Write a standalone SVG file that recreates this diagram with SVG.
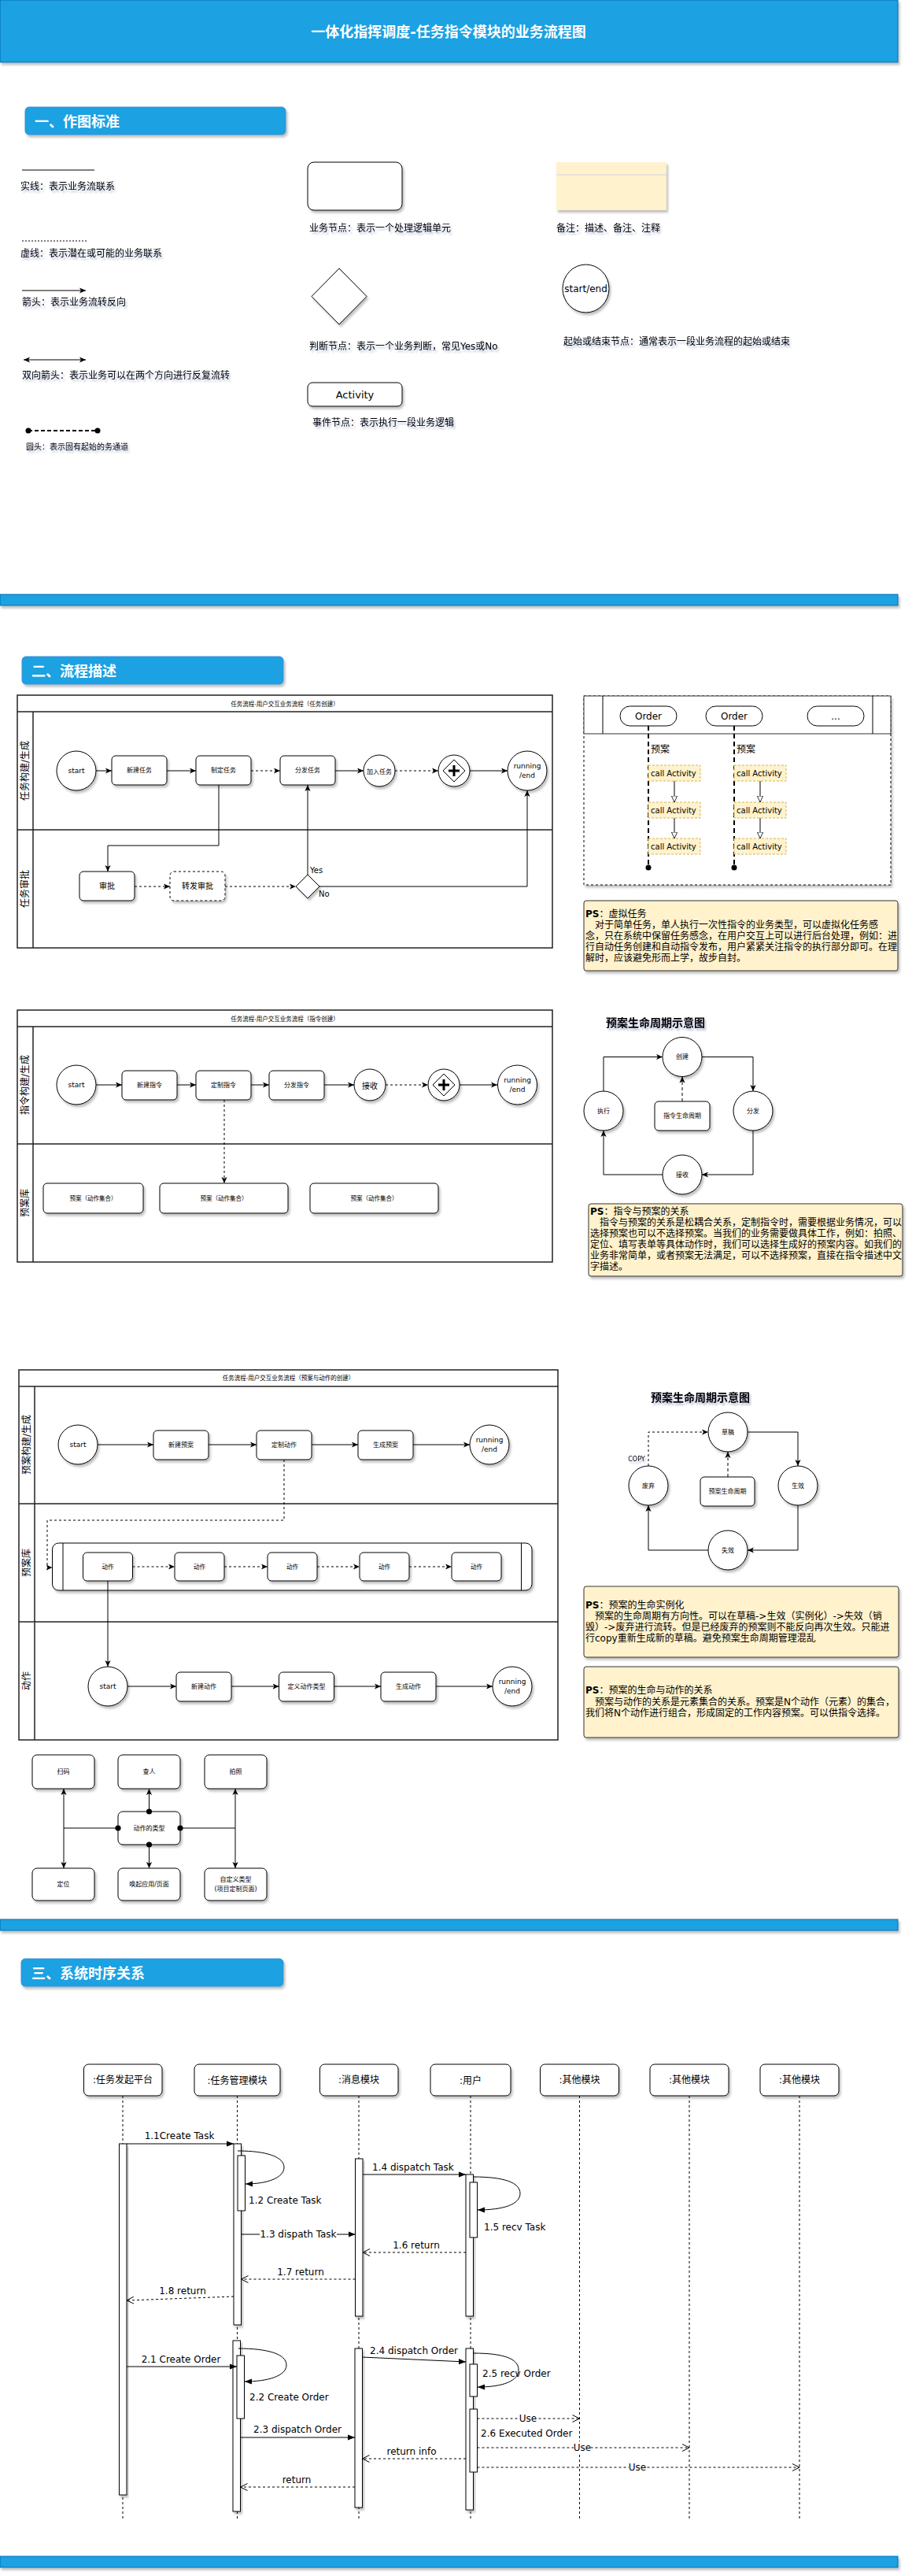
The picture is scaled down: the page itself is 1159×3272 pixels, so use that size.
<svg xmlns="http://www.w3.org/2000/svg" width="1159" height="3272" viewBox="0 0 1159 3272">
<defs>
<filter id="sh" x="-20%" y="-20%" width="150%" height="160%"><feDropShadow dx="2" dy="3" stdDeviation="1.5" flood-color="#000" flood-opacity="0.25"/></filter>
<filter id="tsh" x="-10%" y="-30%" width="120%" height="180%"><feDropShadow dx="2" dy="3" stdDeviation="1.2" flood-color="#1a2a6c" flood-opacity="0.3"/></filter>
<marker id="ar" viewBox="0 0 10 10" refX="10" refY="5" markerWidth="8" markerHeight="8" markerUnits="userSpaceOnUse" orient="auto-start-reverse"><path d="M0,0.5 L10,5 L0,9.5 L2.5,5 z" fill="#000"/></marker>
<marker id="bk" viewBox="0 0 10 10" refX="10" refY="5" markerWidth="9" markerHeight="9" markerUnits="userSpaceOnUse" orient="auto"><path d="M0,1 L10,5 L0,9 z" fill="#000"/></marker>
<marker id="op" viewBox="0 0 10 10" refX="10" refY="5" markerWidth="10" markerHeight="10" markerUnits="userSpaceOnUse" orient="auto"><path d="M1,0.5 L10,5 L1,9.5" fill="none" stroke="#000" stroke-width="1"/></marker>
<marker id="ot" viewBox="0 0 10 10" refX="10" refY="5" markerWidth="8" markerHeight="8" markerUnits="userSpaceOnUse" orient="auto"><path d="M0,0.5 L10,5 L0,9.5 z" fill="#fff" stroke="#000" stroke-width="1"/></marker>
<marker id="dt" viewBox="0 0 10 10" refX="5" refY="5" markerWidth="8" markerHeight="8" markerUnits="userSpaceOnUse"><circle cx="5" cy="5" r="4.5" fill="#000"/></marker>
</defs>
<style>
text{font-family:"DejaVu Sans","Noto Sans CJK SC",sans-serif;dominant-baseline:central;fill:#000}
.c{text-anchor:middle}
.n{fill:#fff;stroke:#000;stroke-width:1;filter:url(#sh)}
.ln{fill:none;stroke:#000;stroke-width:1}
.d{stroke-dasharray:3 3}
.bar{fill:#1ba1e2;stroke:#006eaf;stroke-width:1;filter:url(#sh)}
.hd{fill:#1ba1e2;stroke:#3d8fd0;stroke-width:1;filter:url(#sh)}
.ht{fill:#fff;font-weight:bold;font-size:18px}
.ps{fill:#fff2cc;stroke:#333;stroke-width:1;filter:url(#sh)}
.pool{fill:none;stroke:#222;stroke-width:1.5}
.s12{font-size:12px}
.s8{font-size:8px}
.s9{font-size:9px}
.s10{font-size:10px}
.lt{filter:url(#tsh)}
.life{stroke:#000;stroke-width:1;stroke-dasharray:3 3}
.act{fill:#fff;stroke:#000;stroke-width:1}
</style>

<!-- Header -->
<g id="header">
<rect class="bar" x="0" y="0" width="1141" height="79"/>
<text class="c ht" x="570" y="40">一体化指挥调度-任务指令模块的业务流程图</text>
</g>

<!-- Section 1 -->
<g id="sec1-title">
<rect class="hd" x="32" y="136" width="331" height="35" rx="5"/>
<text class="ht" x="44" y="154">一、作图标准</text>
</g>
<g id="legend-lines">
<line class="ln" x1="28" y1="216" x2="120" y2="216"/>
<text class="s12 lt" x="26" y="237">实线：表示业务流联系</text>
<line class="ln" x1="28" y1="306" x2="111" y2="306" stroke-dasharray="2 2"/>
<text class="s12 lt" x="26" y="322">虚线：表示潜在或可能的业务联系</text>
<line class="ln" x1="28" y1="369" x2="109" y2="369" marker-end="url(#ar)"/>
<text class="s12 lt" x="28" y="384">箭头：表示业务流转反向</text>
<line class="ln" x1="30" y1="457" x2="109" y2="457" marker-start="url(#ar)" marker-end="url(#ar)"/>
<text class="s12 lt" x="28" y="477">双向箭头：表示业务可以在两个方向进行反复流转</text>
<line x1="36" y1="547" x2="124" y2="547" stroke="#000" stroke-width="2" stroke-dasharray="5 3"/>
<circle cx="36" cy="547" r="3.5"/><circle cx="124" cy="547" r="3.5"/>
<text class="s10 lt" x="33" y="567">圆头：表示固有起始的务通道</text>
</g>
<g id="legend-nodes">
<rect class="n" x="391" y="206" width="120" height="61" rx="8"/>
<text class="s12 lt" x="393" y="290">业务节点：表示一个处理逻辑单元</text>
<path class="n" d="M431,341 L466,376.5 L431,412 L396,376.5 Z" stroke-linejoin="round"/>
<text class="s12 lt" x="393" y="440">判断节点：表示一个业务判断，常见Yes或No</text>
<rect class="n" x="391" y="486" width="120" height="30" rx="6"/>
<text class="c" x="451" y="501" font-size="13">Activity</text>
<text class="s12 lt" x="397" y="537">事件节点：表示执行一段业务逻辑</text>
<rect x="707" y="206" width="140" height="61" fill="#fff2cc" filter="url(#sh)"/>
<line x1="707" y1="222" x2="847" y2="222" stroke="#d0d4e0" stroke-width="1"/>
<text class="s12 lt" x="707" y="290">备注：描述、备注、注释</text>
<ellipse class="n" cx="744.5" cy="366.5" rx="29.5" ry="30.5"/>
<text class="c s12" x="744.5" y="366.5">start/end</text>
<text class="s12 lt" x="716" y="434">起始或结束节点：通常表示一段业务流程的起始或结束</text>
</g>

<rect class="bar" x="0" y="755" width="1141" height="14"/>

<!-- Section 2 -->
<g id="sec2-title">
<rect class="hd" x="28" y="834" width="332" height="35" rx="5"/>
<text class="ht" x="40" y="852">二、流程描述</text>
</g>

<!-- Flowchart 1 -->
<g id="flow1-pool">
<rect class="pool" x="22" y="883" width="680" height="321"/>
<line class="pool" x1="22" y1="904" x2="702" y2="904"/>
<line class="pool" x1="42" y1="904" x2="42" y2="1204"/>
<line class="pool" x1="22" y1="1054" x2="702" y2="1054"/>
<text class="c" x="362" y="894" font-size="7.5">任务流程-用户交互业务流程（任务创建）</text>
<text class="c s12" transform="rotate(-90 32 979)" x="32" y="979">任务构建/生成</text>
<text class="c s12" transform="rotate(-90 32 1129)" x="32" y="1129">任务审批</text>
</g>
<g id="f1-start"><circle class="n" cx="97" cy="979" r="25"/><text class="c s9" x="97" y="979">start</text></g>
<g id="f1-new"><rect class="n" x="142" y="960" width="70" height="37" rx="5"/><text class="c s8" x="177" y="978.5">新建任务</text></g>
<g id="f1-make"><rect class="n" x="249" y="960" width="70" height="37" rx="5"/><text class="c s8" x="284" y="978.5">制定任务</text></g>
<g id="f1-dispatch"><rect class="n" x="356" y="960" width="70" height="37" rx="5"/><text class="c s8" x="391" y="978.5">分发任务</text></g>
<g id="f1-join"><circle class="n" cx="482" cy="979" r="20" stroke-width="2"/><text class="c s8" x="482" y="980">加入任务</text></g>
<g id="f1-gw"><circle class="n" cx="577" cy="979" r="20" stroke-width="2.5"/><path d="M577,965 L591,979 L577,993 L563,979 Z" fill="none" stroke="#000"/><path d="M570,979 H584 M577,972 V986" stroke="#000" stroke-width="3"/></g>
<g id="f1-end"><circle class="n" cx="670" cy="979" r="25" stroke-width="2.5"/><text class="c s9" x="670" y="973">running</text><text class="c s9" x="670" y="985">/end</text></g>
<g id="f1-approve"><rect class="n" x="101" y="1107" width="70" height="37" rx="5"/><text class="c s10" x="136" y="1125.5">审批</text></g>
<g id="f1-forward"><rect class="n" x="216" y="1107" width="70" height="37" rx="5" stroke-dasharray="3 3"/><text class="c s10" x="251" y="1125.5">转发审批</text></g>
<g id="f1-decision"><path class="n" d="M391,1111 L406,1126 L391,1141 L376,1126 Z"/></g>
<g id="f1-edges">
<line class="ln" x1="122" y1="979" x2="142" y2="979" marker-end="url(#ar)"/>
<line class="ln" x1="212" y1="979" x2="249" y2="979" marker-end="url(#ar)"/>
<line class="ln d" x1="319" y1="979" x2="356" y2="979" marker-end="url(#ar)"/>
<line class="ln" x1="426" y1="979" x2="462" y2="979" marker-end="url(#ar)"/>
<line class="ln d" x1="502" y1="979" x2="557" y2="979" marker-end="url(#ar)"/>
<line class="ln" x1="597" y1="979" x2="645" y2="979" marker-end="url(#ar)"/>
<polyline class="ln" points="278,997 278,1074 137,1074 137,1107" marker-end="url(#ar)"/>
<line class="ln d" x1="171" y1="1126" x2="216" y2="1126" marker-end="url(#ar)"/>
<line class="ln d" x1="286" y1="1126" x2="376" y2="1126" marker-end="url(#ar)"/>
<line class="ln" x1="391" y1="1111" x2="391" y2="997" marker-end="url(#ar)"/>
<polyline class="ln" points="406,1126 670,1126 670,1004" marker-end="url(#ar)"/>
<text class="s10" x="394" y="1105">Yes</text>
<text class="s10" x="405" y="1135">No</text>
</g>

<!-- Order diagram -->
<g id="order-frame">
<rect x="742" y="884" width="390" height="240" fill="#fff" stroke="#000" stroke-dasharray="3 3" filter="url(#sh)"/>
<rect x="742" y="884" width="390" height="48" fill="#fff" stroke="#333"/>
<line x1="766" y1="884" x2="766" y2="932" stroke="#000"/>
<line x1="1109" y1="884" x2="1109" y2="932" stroke="#000"/>
</g>
<g id="order1"><rect class="act" x="788" y="897" width="72" height="25" rx="12.5"/><text class="c s12" x="824" y="909.5">Order</text></g>
<g id="order2"><rect class="act" x="897" y="897" width="72" height="25" rx="12.5"/><text class="c s12" x="933" y="909.5">Order</text></g>
<g id="order3"><rect class="act" x="1026" y="897" width="72" height="25" rx="12.5"/><text class="c s12" x="1062" y="909.5">...</text></g>
<g id="order-lifelines">
<line x1="824" y1="922" x2="824" y2="1102" stroke="#000" stroke-width="2" stroke-dasharray="6 4"/>
<circle cx="824" cy="1102" r="3.5"/>
<line x1="933" y1="922" x2="933" y2="1102" stroke="#000" stroke-width="2" stroke-dasharray="6 4"/>
<circle cx="933" cy="1102" r="3.5"/>
<text class="s12" x="827" y="952">预案</text>
<text class="s12" x="936" y="952">预案</text>
</g>
<g id="call-activities">
<rect x="824" y="972" width="66" height="20" fill="#fff2cc" stroke="#d6b656" stroke-dasharray="3 2"/><text class="s10" x="827" y="982">call Activity</text>
<rect x="824" y="1019" width="66" height="20" fill="#fff2cc" stroke="#d6b656" stroke-dasharray="3 2"/><text class="s10" x="827" y="1029">call Activity</text>
<rect x="824" y="1065" width="66" height="20" fill="#fff2cc" stroke="#d6b656" stroke-dasharray="3 2"/><text class="s10" x="827" y="1075">call Activity</text>
<rect x="933" y="972" width="66" height="20" fill="#fff2cc" stroke="#d6b656" stroke-dasharray="3 2"/><text class="s10" x="936" y="982">call Activity</text>
<rect x="933" y="1019" width="66" height="20" fill="#fff2cc" stroke="#d6b656" stroke-dasharray="3 2"/><text class="s10" x="936" y="1029">call Activity</text>
<rect x="933" y="1065" width="66" height="20" fill="#fff2cc" stroke="#d6b656" stroke-dasharray="3 2"/><text class="s10" x="936" y="1075">call Activity</text>
<line class="ln" x1="857" y1="992" x2="857" y2="1019" marker-end="url(#ot)"/>
<line class="ln" x1="857" y1="1039" x2="857" y2="1065" marker-end="url(#ot)"/>
<line class="ln" x1="966" y1="992" x2="966" y2="1019" marker-end="url(#ot)"/>
<line class="ln" x1="966" y1="1039" x2="966" y2="1065" marker-end="url(#ot)"/>
</g>
<g id="ps1">
<rect class="ps" x="742" y="1144" width="399" height="89" rx="3"/>
<text class="s12" x="744" y="1161"><tspan font-weight="bold">PS</tspan>：虚拟任务</text>
<text class="s12" x="744" y="1175">　对于简单任务，单人执行一次性指令的业务类型，可以虚拟化任务感</text>
<text class="s12" x="744" y="1189">念，只在系统中保留任务感念，在用户交互上可以进行后台处理，例如：进</text>
<text class="s12" x="744" y="1203">行自动任务创建和自动指令发布，用户紧紧关注指令的执行部分即可。在理</text>
<text class="s12" x="744" y="1217">解时，应该避免形而上学，故步自封。</text>
</g>

<!-- Flowchart 2 -->
<g id="flow2-pool">
<rect class="pool" x="22" y="1283" width="680" height="320"/>
<line class="pool" x1="22" y1="1304" x2="702" y2="1304"/>
<line class="pool" x1="42" y1="1304" x2="42" y2="1603"/>
<line class="pool" x1="22" y1="1453" x2="702" y2="1453"/>
<text class="c" x="362" y="1294" font-size="7.5">任务流程-用户交互业务流程（指令创建）</text>
<text class="c s12" transform="rotate(-90 32 1378)" x="32" y="1378">指令构建/生成</text>
<text class="c s12" transform="rotate(-90 32 1528)" x="32" y="1528">预案库</text>
</g>
<g id="f2-start"><circle class="n" cx="97" cy="1378" r="25"/><text class="c s9" x="97" y="1378">start</text></g>
<g id="f2-new"><rect class="n" x="155" y="1360" width="70" height="37" rx="5"/><text class="c s8" x="190" y="1378.5">新建指令</text></g>
<g id="f2-custom"><rect class="n" x="249" y="1360" width="70" height="37" rx="5"/><text class="c s8" x="284" y="1378.5">定制指令</text></g>
<g id="f2-dispatch"><rect class="n" x="342" y="1360" width="70" height="37" rx="5"/><text class="c s8" x="377" y="1378.5">分发指令</text></g>
<g id="f2-recv"><circle class="n" cx="470" cy="1378" r="20"/><text class="c s10" x="470" y="1379">接收</text></g>
<g id="f2-gw"><circle class="n" cx="564" cy="1378" r="20"/><path d="M564,1364 L578,1378 L564,1392 L550,1378 Z" fill="none" stroke="#000"/><path d="M557,1378 H571 M564,1371 V1385" stroke="#000" stroke-width="3"/></g>
<g id="f2-end"><circle class="n" cx="657.5" cy="1378" r="25" stroke-width="2.5"/><text class="c s9" x="657.5" y="1372">running</text><text class="c s9" x="657.5" y="1384">/end</text></g>
<g id="f2-plan1"><rect class="n" x="55" y="1503" width="127" height="38" rx="5"/><text class="c" x="118.5" y="1522" font-size="7.5">预案（动作集合）</text></g>
<g id="f2-plan2"><rect class="n" x="203" y="1503" width="163" height="38" rx="5"/><text class="c" x="284.5" y="1522" font-size="7.5">预案（动作集合）</text></g>
<g id="f2-plan3"><rect class="n" x="394" y="1503" width="163" height="38" rx="5"/><text class="c" x="475.5" y="1522" font-size="7.5">预案（动作集合）</text></g>
<g id="f2-edges">
<line class="ln" x1="122" y1="1378" x2="155" y2="1378" marker-end="url(#ar)"/>
<line class="ln" x1="225" y1="1378" x2="249" y2="1378" marker-end="url(#ar)" stroke-width="1.5"/>
<line class="ln" x1="319" y1="1378" x2="342" y2="1378" marker-end="url(#ar)" stroke-width="1.5"/>
<line class="ln" x1="412" y1="1378" x2="450" y2="1378" marker-end="url(#ar)"/>
<line class="ln d" x1="490" y1="1378" x2="544" y2="1378" marker-end="url(#ar)"/>
<line class="ln" x1="584" y1="1378" x2="632" y2="1378" marker-end="url(#ar)"/>
<line class="ln d" x1="285" y1="1397" x2="285" y2="1503" marker-end="url(#ar)"/>
</g>

<!-- Lifecycle 1 -->
<text x="770" y="1299" font-size="14" font-weight="bold" filter="url(#tsh)">预案生命周期示意图</text>
<g id="lc1-create"><circle class="n" cx="867" cy="1342.5" r="25"/><text class="c s8" x="867" y="1342.5">创建</text></g>
<g id="lc1-exec"><circle class="n" cx="767" cy="1411" r="25"/><text class="c s8" x="767" y="1411">执行</text></g>
<g id="lc1-dispatch"><circle class="n" cx="957" cy="1411" r="25"/><text class="c s8" x="957" y="1411">分发</text></g>
<g id="lc1-recv"><circle class="n" cx="867" cy="1492" r="25"/><text class="c s8" x="867" y="1492">接收</text></g>
<g id="lc1-center"><rect class="n" x="832" y="1399" width="70" height="37" rx="5"/><text class="c s8" x="867" y="1417.5">指令生命周期</text></g>
<g id="lc1-edges">
<polyline class="ln" points="892,1342.5 957,1342.5 957,1386" marker-end="url(#ar)"/>
<polyline class="ln" points="957,1436 957,1492 892,1492" marker-end="url(#ar)"/>
<polyline class="ln" points="842,1492 767,1492 767,1436" marker-end="url(#ar)"/>
<polyline class="ln" points="767,1386 767,1342.5 842,1342.5" marker-end="url(#ar)"/>
<line class="ln" x1="867" y1="1399" x2="867" y2="1367.5" stroke-width="1.5" stroke-dasharray="4 3" marker-end="url(#ar)"/>
</g>
<g id="ps2">
<rect class="ps" x="748" y="1529" width="399" height="92" rx="3"/>
<text class="s12" x="750" y="1539"><tspan font-weight="bold">PS</tspan>：指令与预案的关系</text>
<text class="s12" x="750" y="1553">　指令与预案的关系是松耦合关系，定制指令时，需要根据业务情况，可以</text>
<text class="s12" x="750" y="1567">选择预案也可以不选择预案。当我们的业务需要做具体工作，例如：拍照、</text>
<text class="s12" x="750" y="1581">定位、填写表单等具体动作时，我们可以选择生成好的预案内容。如我们的</text>
<text class="s12" x="750" y="1595">业务非常简单，或者预案无法满足，可以不选择预案，直接在指令描述中文</text>
<text class="s12" x="750" y="1609">字描述。</text>
</g>

<!-- Flowchart 3 -->
<g id="flow3-pool">
<rect class="pool" x="24" y="1740" width="685" height="470"/>
<line class="pool" x1="24" y1="1761" x2="709" y2="1761"/>
<line class="pool" x1="44" y1="1761" x2="44" y2="2210"/>
<line class="pool" x1="24" y1="1910" x2="709" y2="1910"/>
<line class="pool" x1="24" y1="2060" x2="709" y2="2060"/>
<text class="c" x="366.5" y="1750.5" font-size="7.5">任务流程-用户交互业务流程（预案与动作的创建）</text>
<text class="c s12" transform="rotate(-90 34 1835)" x="34" y="1835">预案构建/生成</text>
<text class="c s12" transform="rotate(-90 34 1985)" x="34" y="1985">预案库</text>
<text class="c s12" transform="rotate(-90 34 2135)" x="34" y="2135">动作</text>
</g>
<g id="f3-start"><circle class="n" cx="99" cy="1835" r="25"/><text class="c s9" x="99" y="1835">start</text></g>
<g id="f3-newplan"><rect class="n" x="195" y="1817" width="70" height="37" rx="5"/><text class="c s8" x="230" y="1835.5">新建预案</text></g>
<g id="f3-custom"><rect class="n" x="326" y="1817" width="70" height="37" rx="5"/><text class="c s8" x="361" y="1835.5">定制动作</text></g>
<g id="f3-genplan"><rect class="n" x="455" y="1817" width="70" height="37" rx="5"/><text class="c s8" x="490" y="1835.5">生成预案</text></g>
<g id="f3-end"><circle class="n" cx="622" cy="1835" r="25" stroke-width="2.5"/><text class="c s9" x="622" y="1829">running</text><text class="c s9" x="622" y="1841">/end</text></g>
<g id="f3-container">
<rect class="n" x="66.5" y="1960" width="609.5" height="60" rx="8"/>
<line x1="80" y1="1960" x2="80" y2="2020" stroke="#000"/>
<line x1="662.5" y1="1960" x2="662.5" y2="2020" stroke="#000"/>
</g>
<g id="f3-act1"><rect class="n" x="105.5" y="1972" width="63" height="36" rx="5"/><text class="c" x="137" y="1990" font-size="7.5">动作</text></g>
<g id="f3-act2"><rect class="n" x="222" y="1972" width="63" height="36" rx="5"/><text class="c" x="253.5" y="1990" font-size="7.5">动作</text></g>
<g id="f3-act3"><rect class="n" x="340" y="1972" width="63" height="36" rx="5"/><text class="c" x="371.5" y="1990" font-size="7.5">动作</text></g>
<g id="f3-act4"><rect class="n" x="457" y="1972" width="63" height="36" rx="5"/><text class="c" x="488.5" y="1990" font-size="7.5">动作</text></g>
<g id="f3-act5"><rect class="n" x="574" y="1972" width="63" height="36" rx="5"/><text class="c" x="605.5" y="1990" font-size="7.5">动作</text></g>
<g id="f3-start2"><circle class="n" cx="137" cy="2142" r="25"/><text class="c s9" x="137" y="2142">start</text></g>
<g id="f3-newact"><rect class="n" x="224" y="2124" width="70" height="37" rx="5"/><text class="c s8" x="259" y="2142.5">新建动作</text></g>
<g id="f3-deftype"><rect class="n" x="354.5" y="2124" width="70" height="37" rx="5"/><text class="c s8" x="389.5" y="2142.5">定义动作类型</text></g>
<g id="f3-genact"><rect class="n" x="484" y="2124" width="70" height="37" rx="5"/><text class="c s8" x="519" y="2142.5">生成动作</text></g>
<g id="f3-end2"><circle class="n" cx="651" cy="2142" r="25" stroke-width="2.5"/><text class="c s9" x="651" y="2136">running</text><text class="c s9" x="651" y="2148">/end</text></g>
<g id="f3-edges">
<line class="ln" x1="124" y1="1835" x2="195" y2="1835" marker-end="url(#ar)"/>
<line class="ln" x1="265" y1="1835" x2="326" y2="1835" marker-end="url(#ar)"/>
<line class="ln" x1="396" y1="1835" x2="455" y2="1835" marker-end="url(#ar)"/>
<line class="ln" x1="525" y1="1835" x2="597" y2="1835" marker-end="url(#ar)"/>
<polyline class="ln d" points="361,1854 361,1931 60,1931 60,1991 66.5,1991" marker-end="url(#ar)"/>
<line class="ln d" x1="168.5" y1="1990" x2="222" y2="1990" marker-end="url(#ar)"/>
<line class="ln d" x1="285" y1="1990" x2="340" y2="1990" marker-end="url(#ar)"/>
<line class="ln d" x1="403" y1="1990" x2="457" y2="1990" marker-end="url(#ar)"/>
<line class="ln d" x1="520" y1="1990" x2="574" y2="1990" marker-end="url(#ar)"/>
<line class="ln" x1="137" y1="2008" x2="137" y2="2117" marker-end="url(#ar)"/>
<line class="ln" x1="162" y1="2142" x2="224" y2="2142" marker-end="url(#ar)"/>
<line class="ln" x1="294" y1="2142" x2="354.5" y2="2142" marker-end="url(#ar)"/>
<line class="ln" x1="424.5" y1="2142" x2="484" y2="2142" marker-end="url(#ar)"/>
<line class="ln" x1="554" y1="2142" x2="626" y2="2142" marker-end="url(#ar)"/>
</g>

<!-- Lifecycle 2 -->
<text x="827" y="1775" font-size="14" font-weight="bold" filter="url(#tsh)">预案生命周期示意图</text>
<g id="lc2-draft"><circle class="n" cx="925" cy="1819" r="25"/><text class="c s8" x="925" y="1819">草稿</text></g>
<g id="lc2-abandon"><circle class="n" cx="824" cy="1887" r="25"/><text class="c s8" x="824" y="1887">废弃</text></g>
<g id="lc2-effect"><circle class="n" cx="1014" cy="1887" r="25"/><text class="c s8" x="1014" y="1887">生效</text></g>
<g id="lc2-expire"><circle class="n" cx="925" cy="1969" r="25"/><text class="c s8" x="925" y="1969">失效</text></g>
<g id="lc2-center"><rect class="n" x="890" y="1876" width="69" height="37" rx="5"/><text class="c s8" x="924.5" y="1894.5">预案生命周期</text></g>
<g id="lc2-edges">
<polyline class="ln" points="950,1819 1014,1819 1014,1862" marker-end="url(#ar)"/>
<polyline class="ln" points="1014,1912 1014,1969 950,1969" marker-end="url(#ar)"/>
<polyline class="ln" points="900,1969 824,1969 824,1912" marker-end="url(#ar)"/>
<polyline class="ln d" points="824,1862 824,1819 900,1819" marker-end="url(#ar)"/>
<line class="ln" x1="925" y1="1876" x2="925" y2="1844" stroke-width="1.5" stroke-dasharray="4 3" marker-end="url(#ar)"/>
<text class="c s8" x="809" y="1853" filter="url(#tsh)">COPY</text>
</g>
<g id="ps3">
<rect class="ps" x="742" y="2015" width="400" height="90" rx="3"/>
<text class="s12" x="744" y="2039"><tspan font-weight="bold">PS</tspan>：预案的生命实例化</text>
<text class="s12" x="744" y="2053">　预案的生命周期有方向性。可以在草稿-&gt;生效（实例化）-&gt;失效（销</text>
<text class="s12" x="744" y="2067">毁）-&gt;废弃进行流转。但是已经废弃的预案则不能反向再次生效。只能进</text>
<text class="s12" x="744" y="2081">行copy重新生成新的草稿。避免预案生命周期管理混乱</text>
</g>
<g id="ps4">
<rect class="ps" x="742" y="2117" width="400" height="90" rx="3"/>
<text class="s12" x="744" y="2147"><tspan font-weight="bold">PS</tspan>：预案的生命与动作的关系</text>
<text class="s12" x="744" y="2162">　预案与动作的关系是元素集合的关系。预案是N个动作（元素）的集合，</text>
<text class="s12" x="744" y="2176">我们将N个动作进行组合，形成固定的工作内容预案。可以供指令选择。</text>
</g>

<!-- Action types -->
<g id="at-scan"><rect class="n" x="41" y="2229" width="79" height="43" rx="6"/><text class="c s8" x="80.5" y="2250.5">扫码</text></g>
<g id="at-person"><rect class="n" x="150" y="2229" width="79" height="43" rx="6"/><text class="c s8" x="189.5" y="2250.5">查人</text></g>
<g id="at-photo"><rect class="n" x="260" y="2229" width="79" height="43" rx="6"/><text class="c s8" x="299.5" y="2250.5">拍照</text></g>
<g id="at-type"><rect class="n" x="150" y="2301" width="79" height="42" rx="6"/><text class="c s8" x="189.5" y="2322">动作的类型</text></g>
<g id="at-locate"><rect class="n" x="41" y="2373" width="79" height="41" rx="6"/><text class="c s8" x="80.5" y="2393.5">定位</text></g>
<g id="at-app"><rect class="n" x="150" y="2373" width="79" height="41" rx="6"/><text class="c s8" x="189.5" y="2393.5">唤起应用/页面</text></g>
<g id="at-custom"><rect class="n" x="260" y="2373" width="79" height="41" rx="6"/><text class="c s8" x="299.5" y="2387">自定义类型</text><text class="c s8" x="299.5" y="2399">(项目定制页面)</text></g>
<g id="at-edges">
<line class="ln" x1="81" y1="2272" x2="81" y2="2373" marker-start="url(#ar)" marker-end="url(#ar)"/>
<line class="ln" x1="150" y1="2322" x2="81" y2="2322" marker-start="url(#dt)"/>
<line class="ln" x1="299" y1="2272" x2="299" y2="2373" marker-start="url(#ar)" marker-end="url(#ar)"/>
<line class="ln" x1="229" y1="2322" x2="299" y2="2322" marker-start="url(#dt)"/>
<line class="ln" x1="189.5" y1="2301" x2="189.5" y2="2272" marker-start="url(#dt)" marker-end="url(#ar)"/>
<line class="ln" x1="189.5" y1="2343" x2="189.5" y2="2373" marker-start="url(#dt)" marker-end="url(#ar)"/>
</g>

<rect class="bar" x="0" y="2438" width="1141" height="14"/>

<!-- Section 3 -->
<g id="sec3-title">
<rect class="hd" x="27" y="2488" width="333" height="35" rx="5"/>
<text class="ht" x="40" y="2506">三、系统时序关系</text>
</g>

<g id="seq-heads">
<g id="h-platform"><rect class="n" x="106.5" y="2622" width="99.5" height="40" rx="6"/><text class="c s12" x="156" y="2642">:任务发起平台</text></g>
<g id="h-taskmgr"><rect class="n" x="247" y="2622" width="109" height="40" rx="6"/><text class="c s12" x="301.5" y="2643">:任务管理模块</text></g>
<g id="h-msg"><rect class="n" x="406.5" y="2622" width="99.5" height="40" rx="6"/><text class="c s12" x="456" y="2642">:消息模块</text></g>
<g id="h-user"><rect class="n" x="547" y="2622" width="102" height="40" rx="6"/><text class="c s12" x="598" y="2643">:用户</text></g>
<g id="h-other1"><rect class="n" x="686.5" y="2622" width="100" height="40" rx="6"/><text class="c s12" x="736.5" y="2642">:其他模块</text></g>
<g id="h-other2"><rect class="n" x="826" y="2622" width="100" height="40" rx="6"/><text class="c s12" x="876" y="2642">:其他模块</text></g>
<g id="h-other3"><rect class="n" x="966" y="2622" width="100" height="40" rx="6"/><text class="c s12" x="1016" y="2642">:其他模块</text></g>
</g>
<g id="seq-lifelines">
<line class="life" x1="156" y1="2662" x2="156" y2="3200"/>
<line class="life" x1="301.5" y1="2662" x2="301.5" y2="3200"/>
<line class="life" x1="456" y1="2662" x2="456" y2="3200"/>
<line class="life" x1="598" y1="2662" x2="598" y2="3200"/>
<line class="life" x1="736.5" y1="2662" x2="736.5" y2="3200"/>
<line class="life" x1="876" y1="2662" x2="876" y2="3200"/>
<line class="life" x1="1016" y1="2662" x2="1016" y2="3200"/>
</g>
<g id="seq-bars">
<rect class="act" x="151.5" y="2723" width="9.5" height="446" filter="url(#sh)"/>
<rect class="act" x="297" y="2723" width="9.5" height="230" filter="url(#sh)"/>
<rect class="act" x="302" y="2738" width="9.5" height="70"/>
<rect class="act" x="451.5" y="2742" width="9.5" height="200" filter="url(#sh)"/>
<rect class="act" x="592" y="2762" width="9.5" height="180" filter="url(#sh)"/>
<rect class="act" x="597" y="2772" width="9.5" height="70"/>
<rect class="act" x="296" y="2973" width="9.5" height="217" filter="url(#sh)"/>
<rect class="act" x="301" y="2992" width="9.5" height="80"/>
<rect class="act" x="451" y="2983" width="9.5" height="202" filter="url(#sh)"/>
<rect class="act" x="592" y="2983" width="9.5" height="205" filter="url(#sh)"/>
<rect class="act" x="597" y="3003" width="9.5" height="41"/>
<rect class="act" x="597" y="3060" width="9.5" height="80"/>
</g>
<g id="seq-messages">
<line class="ln" x1="161" y1="2723" x2="297" y2="2723" marker-end="url(#bk)"/>
<text class="c s12" x="228" y="2713">1.1Create Task</text>
<path class="ln" d="M302,2732 C340,2732 361,2740 361,2753 C361,2766 340,2774 312,2774" marker-end="url(#bk)"/>
<text class="s12" x="316" y="2795">1.2 Create Task</text>
<line class="ln" x1="306.5" y1="2838" x2="451.5" y2="2838" marker-end="url(#bk)"/>
<rect x="330" y="2830" width="98" height="16" fill="#fff"/>
<text class="c s12" x="379" y="2838">1.3 dispath Task</text>
<line class="ln" x1="461" y1="2762" x2="592" y2="2762" marker-end="url(#bk)"/>
<text class="s12" x="473" y="2753">1.4 dispatch Task</text>
<path class="ln" d="M601.5,2765 C640,2765 661,2772 661,2786 C661,2800 640,2807 607,2807" marker-end="url(#bk)"/>
<text class="s12" x="615" y="2829">1.5 recv Task</text>
<line class="ln d" x1="592" y1="2861" x2="461" y2="2861" marker-end="url(#op)"/>
<text class="c s12" x="529" y="2852">1.6 return</text>
<line class="ln d" x1="451.5" y1="2895" x2="306.5" y2="2895" marker-end="url(#op)"/>
<text class="c s12" x="382" y="2886">1.7 return</text>
<line class="ln d" x1="297" y1="2917" x2="161" y2="2922" marker-end="url(#op)"/>
<text class="c s12" x="232" y="2910">1.8 return</text>
<line class="ln" x1="161" y1="3006" x2="301" y2="3006" marker-end="url(#bk)"/>
<text class="c s12" x="230" y="2997">2.1 Create Order</text>
<path class="ln" d="M303,2983 C340,2983 364,2990 364,3004 C364,3018 340,3025 311,3025" marker-end="url(#bk)"/>
<text class="s12" x="317" y="3045">2.2 Create Order</text>
<line class="ln" x1="305.5" y1="3096" x2="451" y2="3096" marker-end="url(#bk)"/>
<text class="c s12" x="378" y="3086">2.3 dispatch Order</text>
<line class="ln" x1="460.5" y1="2994" x2="592" y2="3000" marker-end="url(#bk)"/>
<text class="c s12" x="526" y="2986">2.4 dispatch Order</text>
<path class="ln" d="M601.5,2989 C640,2989 659,2996 659,3010 C659,3024 640,3032 607,3032" marker-end="url(#bk)"/>
<text class="s12" x="613" y="3015">2.5 recv Order</text>
<line class="ln d" x1="606.5" y1="3072" x2="736.5" y2="3072" marker-end="url(#op)"/>
<rect x="660" y="3064" width="22" height="16" fill="#fff"/>
<text class="c s12" x="671" y="3072">Use</text>
<text class="s12" x="611" y="3091">2.6 Executed Order</text>
<line class="ln d" x1="606.5" y1="3109" x2="876" y2="3109" marker-end="url(#op)"/>
<rect x="729" y="3101" width="22" height="16" fill="#fff"/>
<text class="c s12" x="740" y="3109">Use</text>
<line class="ln d" x1="592" y1="3123" x2="460.5" y2="3123" marker-end="url(#op)"/>
<text class="c s12" x="523" y="3114">return info</text>
<line class="ln d" x1="606.5" y1="3134" x2="1016" y2="3134" marker-end="url(#op)"/>
<rect x="799" y="3126" width="22" height="16" fill="#fff"/>
<text class="c s12" x="810" y="3134">Use</text>
<line class="ln d" x1="451" y1="3159" x2="305.5" y2="3159" marker-end="url(#op)"/>
<text class="c s12" x="377" y="3150">return</text>
</g>

<rect class="bar" x="0" y="3247" width="1141" height="14"/>
</svg>
